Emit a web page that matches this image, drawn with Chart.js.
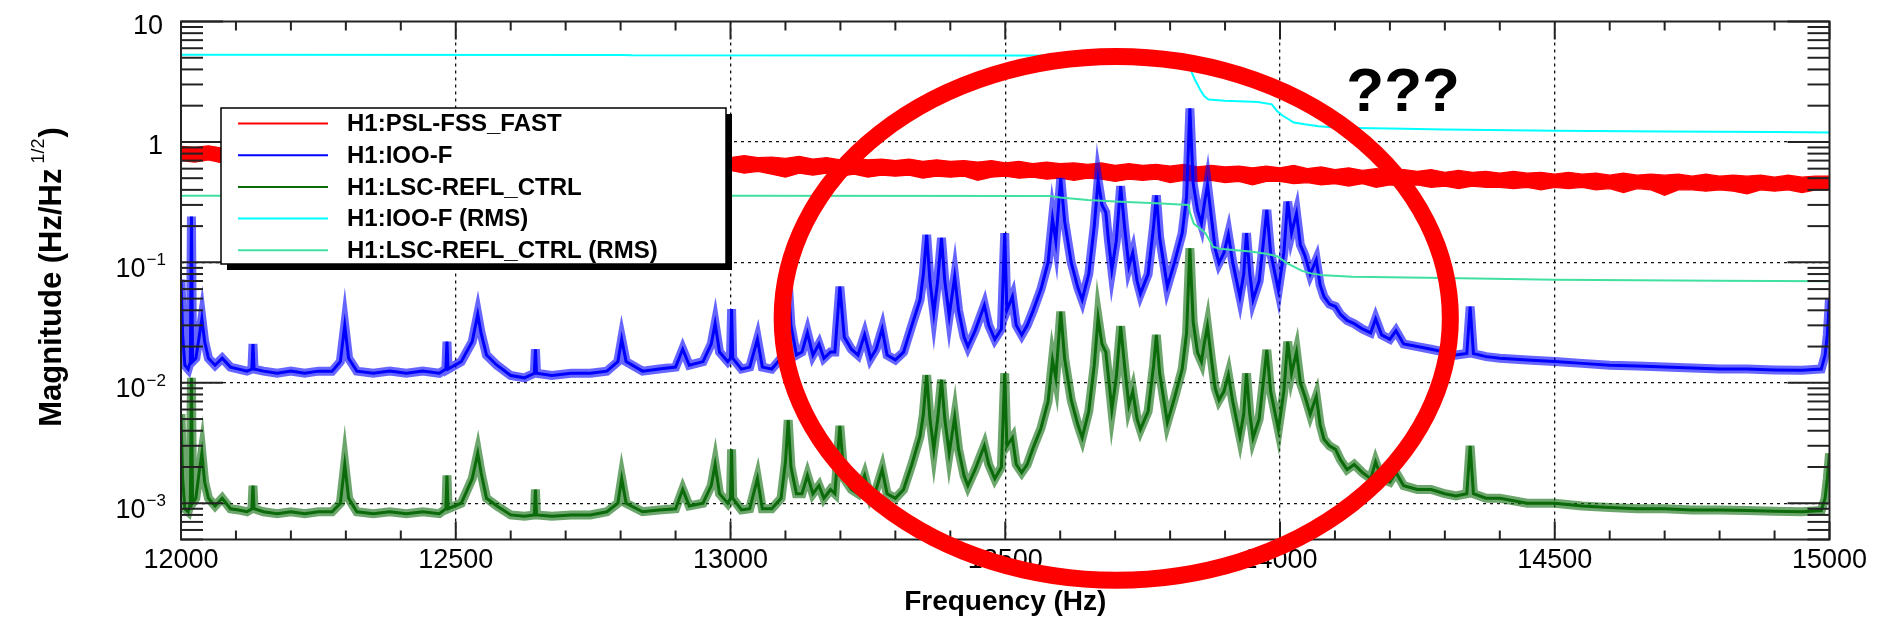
<!DOCTYPE html>
<html>
<head>
<meta charset="utf-8">
<script src="https://cdn.jsdelivr.net/npm/chart.js@4/dist/chart.umd.min.js"></script>
<style>
  html, body { margin: 0; padding: 0; background: #fff; }
</style>
</head>
<body>
<canvas id="spectrum" width="1878" height="627"></canvas>
<script>
const FONT = '"Liberation Sans", Arial, Helvetica, sans-serif';

// axis ticks
const freqTicks = [12000, 12500, 13000, 13500, 14000, 14500, 15000];
const magTicks = [1e-3, 1e-2, 1e-1, 1, 10];

const seriesNames = ['H1:PSL-FSS_FAST', 'H1:IOO-F', 'H1:LSC-REFL_CTRL', 'H1:IOO-F (RMS)', 'H1:LSC-REFL_CTRL (RMS)'];
const seriesColors = ['#ff0000', '#0000ff', '#0b6b0b', '#00ffff', '#40e0a0'];

// PSL-FSS_FAST: noise band edges on a 25 Hz grid
const pslFreq = Array.from({ length: 121 }, (_, i) => 12000 + 25 * i);
const pslUpper = [
  0.92, 0.90, 0.93, 0.89, 0.90, 0.88, 0.89, 0.87, 0.88, 0.87,
  0.86, 0.87, 0.85, 0.86, 0.84, 0.85, 0.84, 0.83, 0.84, 0.82,
  0.83, 0.82, 0.81, 0.82, 0.80, 0.81, 0.79, 0.80, 0.79, 0.78,
  0.79, 0.77, 0.78, 0.76, 0.77, 0.76, 0.75, 0.77, 0.75, 0.76,
  0.74, 0.77, 0.74, 0.75, 0.73, 0.76, 0.72, 0.74, 0.71, 0.73,
  0.71, 0.72, 0.70, 0.72, 0.69, 0.71, 0.69, 0.70, 0.68, 0.70,
  0.67, 0.69, 0.66, 0.68, 0.66, 0.67, 0.65, 0.67, 0.64, 0.66,
  0.64, 0.65, 0.63, 0.65, 0.62, 0.64, 0.62, 0.63, 0.61, 0.63,
  0.61, 0.64, 0.60, 0.62, 0.59, 0.61, 0.58, 0.60, 0.58, 0.59,
  0.57, 0.59, 0.56, 0.58, 0.56, 0.57, 0.55, 0.57, 0.55, 0.56,
  0.54, 0.56, 0.54, 0.55, 0.53, 0.55, 0.53, 0.54, 0.53, 0.54,
  0.52, 0.54, 0.52, 0.53, 0.52, 0.53, 0.51, 0.53, 0.51, 0.52,
  0.52
];
const pslLower = [
  0.70, 0.68, 0.71, 0.67, 0.69, 0.66, 0.68, 0.66, 0.67, 0.65,
  0.66, 0.64, 0.66, 0.64, 0.65, 0.63, 0.64, 0.63, 0.64, 0.62,
  0.63, 0.61, 0.62, 0.61, 0.62, 0.60, 0.61, 0.59, 0.60, 0.59,
  0.60, 0.58, 0.59, 0.57, 0.59, 0.57, 0.58, 0.56, 0.58, 0.56,
  0.58, 0.55, 0.57, 0.54, 0.51, 0.55, 0.53, 0.55, 0.52, 0.54,
  0.51, 0.53, 0.52, 0.53, 0.50, 0.52, 0.51, 0.52, 0.48, 0.51,
  0.52, 0.50, 0.51, 0.49, 0.50, 0.48, 0.50, 0.49, 0.47, 0.49,
  0.48, 0.49, 0.46, 0.48, 0.47, 0.48, 0.46, 0.47, 0.44, 0.47,
  0.47, 0.45, 0.46, 0.44, 0.45, 0.43, 0.45, 0.42, 0.44, 0.43,
  0.44, 0.42, 0.43, 0.41, 0.43, 0.42, 0.42, 0.41, 0.42, 0.40,
  0.42, 0.41, 0.42, 0.40, 0.41, 0.38, 0.41, 0.40, 0.36, 0.40,
  0.40, 0.39, 0.40, 0.39, 0.37, 0.40, 0.39, 0.40, 0.38, 0.40,
  0.40
];

// IOO-F spectrum [Hz, Hz/rtHz]
const iooF = [
  [12000, 0.072], [12003, 0.025], [12007, 0.014], [12013, 0.013], [12017, 0.015], [12019, 0.24], [12021, 0.015],
  [12027, 0.016], [12033, 0.024], [12038, 0.034], [12043, 0.022], [12050, 0.016], [12062, 0.014], [12075, 0.016],
  [12090, 0.0135], [12105, 0.013], [12120, 0.0125], [12129, 0.013], [12131, 0.021], [12133, 0.013], [12150, 0.0125],
  [12175, 0.012], [12200, 0.0125], [12225, 0.012], [12250, 0.0125], [12275, 0.0125], [12290, 0.015], [12298, 0.03],
  [12305, 0.016], [12320, 0.0125], [12350, 0.012], [12380, 0.0125], [12410, 0.012], [12440, 0.0125], [12470, 0.012],
  [12482, 0.013], [12484, 0.022], [12486, 0.013], [12510, 0.015], [12530, 0.022], [12540, 0.037], [12546, 0.026],
  [12556, 0.017], [12575, 0.014], [12600, 0.0115], [12625, 0.011], [12643, 0.012], [12645, 0.019], [12647, 0.012],
  [12675, 0.0115], [12710, 0.012], [12745, 0.012], [12775, 0.0125], [12795, 0.015], [12802, 0.023], [12810, 0.015],
  [12840, 0.0125], [12870, 0.013], [12900, 0.0135], [12913, 0.019], [12925, 0.014], [12950, 0.015], [12965, 0.021],
  [12972, 0.031], [12980, 0.018], [12995, 0.015], [13000, 0.016], [13002, 0.041], [13004, 0.016], [13020, 0.013],
  [13035, 0.0135], [13049, 0.023], [13058, 0.0135], [13075, 0.013], [13092, 0.016], [13100, 0.03], [13105, 0.069],
  [13110, 0.03], [13120, 0.017], [13130, 0.018], [13140, 0.026], [13150, 0.017], [13161, 0.021], [13170, 0.016],
  [13182, 0.018], [13190, 0.018], [13199, 0.063], [13207, 0.024], [13220, 0.019], [13232, 0.017], [13244, 0.025],
  [13255, 0.016], [13265, 0.019], [13276, 0.028], [13285, 0.017], [13300, 0.0155], [13315, 0.018], [13330, 0.03],
  [13345, 0.049], [13351, 0.08], [13357, 0.169], [13363, 0.07], [13370, 0.038], [13377, 0.07], [13384, 0.16],
  [13390, 0.07], [13398, 0.036], [13408, 0.076], [13415, 0.04], [13425, 0.024], [13432, 0.02], [13445, 0.027],
  [13462, 0.044], [13470, 0.03], [13481, 0.023], [13493, 0.028], [13499, 0.175], [13503, 0.04], [13513, 0.052],
  [13520, 0.03], [13530, 0.025], [13540, 0.03], [13551, 0.04], [13565, 0.06], [13578, 0.1], [13586, 0.23],
  [13592, 0.15], [13601, 0.5], [13608, 0.22], [13620, 0.1], [13632, 0.062], [13640, 0.049], [13652, 0.08],
  [13662, 0.2], [13669, 0.48], [13676, 0.3], [13683, 0.26], [13688, 0.15], [13694, 0.087], [13702, 0.15],
  [13710, 0.43], [13717, 0.2], [13725, 0.093], [13732, 0.12], [13740, 0.07], [13746, 0.055], [13760, 0.08],
  [13770, 0.2], [13775, 0.36], [13781, 0.16], [13795, 0.063], [13808, 0.1], [13822, 0.175], [13830, 0.35],
  [13836, 1.9], [13842, 0.45], [13850, 0.27], [13857, 0.21], [13862, 0.3], [13868, 0.44], [13875, 0.24],
  [13882, 0.13], [13889, 0.099], [13898, 0.12], [13906, 0.17], [13914, 0.1], [13927, 0.052], [13934, 0.08],
  [13939, 0.175], [13945, 0.08], [13951, 0.049], [13962, 0.07], [13970, 0.15], [13976, 0.273], [13983, 0.12],
  [13997, 0.059], [14007, 0.12], [14014, 0.32], [14021, 0.175], [14030, 0.255], [14037, 0.14], [14045, 0.115],
  [14055, 0.08], [14066, 0.105], [14073, 0.065], [14080, 0.052], [14090, 0.045], [14101, 0.043], [14110, 0.037],
  [14122, 0.033], [14135, 0.031], [14150, 0.028], [14165, 0.026], [14174, 0.034], [14185, 0.025], [14200, 0.023],
  [14211, 0.027], [14225, 0.021], [14250, 0.02], [14275, 0.019], [14300, 0.018], [14320, 0.017], [14340, 0.0175],
  [14346, 0.043], [14352, 0.0175], [14375, 0.0165], [14400, 0.016], [14450, 0.0155], [14500, 0.015], [14550, 0.0145],
  [14600, 0.014], [14650, 0.0138], [14700, 0.0135], [14750, 0.0133], [14800, 0.013], [14850, 0.013], [14900, 0.0128],
  [14950, 0.0127], [14985, 0.013], [14992, 0.017], [14996, 0.025], [15000, 0.05]
];

// LSC-REFL_CTRL spectrum
const lscF = [
  [12000, 0.0055], [12003, 0.0016], [12007, 0.0009], [12013, 0.00085], [12017, 0.001], [12019, 0.011], [12021, 0.001],
  [12027, 0.0011], [12033, 0.0018], [12038, 0.0026], [12043, 0.0015], [12050, 0.0011], [12062, 0.00095], [12075, 0.0011],
  [12090, 0.0009], [12105, 0.00088], [12120, 0.00085], [12129, 0.0009], [12131, 0.0014], [12133, 0.0009], [12150, 0.00085],
  [12175, 0.00082], [12200, 0.00085], [12225, 0.00082], [12250, 0.00085], [12275, 0.00085], [12290, 0.001], [12298, 0.0021],
  [12305, 0.0011], [12320, 0.00085], [12350, 0.00082], [12380, 0.00085], [12410, 0.00082], [12440, 0.00085], [12470, 0.00082],
  [12482, 0.0009], [12484, 0.0017], [12486, 0.0009], [12510, 0.001], [12530, 0.0016], [12540, 0.0026], [12546, 0.0018],
  [12556, 0.0011], [12575, 0.00095], [12600, 0.0008], [12625, 0.00078], [12643, 0.0008], [12645, 0.0013], [12647, 0.0008],
  [12675, 0.00078], [12710, 0.0008], [12745, 0.0008], [12775, 0.00085], [12795, 0.001], [12802, 0.0016], [12810, 0.001],
  [12840, 0.00085], [12870, 0.00088], [12900, 0.0009], [12913, 0.0013], [12925, 0.00095], [12950, 0.001], [12965, 0.0014],
  [12972, 0.0021], [12980, 0.0012], [12995, 0.001], [13000, 0.0011], [13002, 0.0028], [13004, 0.0011], [13020, 0.00088],
  [13035, 0.0009], [13049, 0.0016], [13058, 0.0009], [13075, 0.0009], [13092, 0.0011], [13100, 0.0022], [13105, 0.0049],
  [13110, 0.002], [13120, 0.0012], [13130, 0.0012], [13140, 0.0017], [13150, 0.0012], [13161, 0.0014], [13170, 0.0011],
  [13182, 0.0013], [13190, 0.0012], [13199, 0.0044], [13207, 0.0016], [13220, 0.0013], [13232, 0.0012], [13244, 0.0017],
  [13255, 0.0011], [13265, 0.0013], [13276, 0.0019], [13285, 0.0012], [13300, 0.0011], [13315, 0.0013], [13330, 0.0021],
  [13345, 0.0036], [13351, 0.0055], [13357, 0.0116], [13363, 0.005], [13370, 0.0028], [13377, 0.005], [13384, 0.0106],
  [13390, 0.005], [13398, 0.0026], [13408, 0.0052], [13415, 0.0028], [13425, 0.0017], [13432, 0.0014], [13445, 0.0019],
  [13462, 0.003], [13470, 0.0021], [13481, 0.0016], [13493, 0.002], [13499, 0.012], [13503, 0.003], [13513, 0.0035],
  [13520, 0.0021], [13530, 0.0018], [13540, 0.0021], [13551, 0.0029], [13565, 0.0042], [13578, 0.007], [13586, 0.0155],
  [13592, 0.011], [13601, 0.039], [13608, 0.016], [13620, 0.0072], [13632, 0.0045], [13640, 0.0035], [13652, 0.0058],
  [13662, 0.014], [13669, 0.0346], [13676, 0.021], [13683, 0.018], [13688, 0.011], [13694, 0.006], [13702, 0.011],
  [13710, 0.0295], [13717, 0.014], [13725, 0.0065], [13732, 0.0085], [13740, 0.005], [13746, 0.0041], [13760, 0.0058],
  [13770, 0.014], [13775, 0.025], [13781, 0.012], [13795, 0.0047], [13808, 0.0075], [13822, 0.013], [13830, 0.026],
  [13836, 0.131], [13842, 0.032], [13850, 0.0178], [13857, 0.015], [13862, 0.021], [13868, 0.0295], [13875, 0.016],
  [13882, 0.009], [13889, 0.0072], [13898, 0.0085], [13906, 0.0116], [13914, 0.007], [13927, 0.0036], [13934, 0.0055],
  [13939, 0.012], [13945, 0.0055], [13951, 0.0035], [13962, 0.005], [13970, 0.0105], [13976, 0.0188], [13983, 0.0085],
  [13997, 0.0041], [14007, 0.0085], [14014, 0.022], [14021, 0.012], [14030, 0.018], [14037, 0.01], [14045, 0.0078],
  [14055, 0.0055], [14066, 0.0077], [14073, 0.0045], [14080, 0.0034], [14090, 0.003], [14101, 0.0028], [14110, 0.0023],
  [14122, 0.0019], [14135, 0.0021], [14150, 0.0018], [14165, 0.0016], [14174, 0.0022], [14185, 0.0016], [14200, 0.0015],
  [14211, 0.0018], [14225, 0.0014], [14250, 0.0013], [14275, 0.0013], [14300, 0.0012], [14320, 0.00115], [14340, 0.0012],
  [14346, 0.003], [14352, 0.0012], [14375, 0.0011], [14400, 0.0011], [14450, 0.001], [14500, 0.001], [14550, 0.00095],
  [14600, 0.00092], [14650, 0.0009], [14700, 0.0009], [14750, 0.00088], [14800, 0.00088], [14850, 0.00087], [14900, 0.00086],
  [14950, 0.00085], [14985, 0.00087], [14992, 0.0011], [14996, 0.0016], [15000, 0.0026]
];

// cumulative RMS curves
const iooRms = [
  [12000, 5.3], [12800, 5.28], [12820, 5.25], [13500, 5.22], [13834, 5.2], [13836, 4.1], [13845, 3.3],
  [13855, 2.7], [13862, 2.4], [13870, 2.25], [13900, 2.2], [13960, 2.15], [13985, 2.05], [13995, 1.8],
  [14005, 1.65], [14015, 1.55], [14025, 1.45], [14045, 1.4], [14070, 1.35], [14107, 1.31], [14200, 1.29],
  [14300, 1.27], [14500, 1.24], [14700, 1.22], [14900, 1.21], [15000, 1.2]
];
const lscRms = [
  [12000, 0.358], [13000, 0.358], [13580, 0.355], [13600, 0.345], [13650, 0.33], [13700, 0.32], [13775, 0.31],
  [13834, 0.30], [13836, 0.26], [13843, 0.21], [13864, 0.176], [13878, 0.135], [13890, 0.13], [13946, 0.123],
  [13975, 0.118], [13996, 0.112], [14010, 0.1], [14025, 0.092], [14040, 0.085], [14056, 0.081], [14080, 0.078],
  [14132, 0.076], [14300, 0.074], [14500, 0.0716], [14800, 0.0705], [15000, 0.0697]
];

// highlighted region: centre [Hz, mag], half-widths [Hz, decades]
const ringCentre = [13702, 0.0343];
const ringRadius = [608, 2.174];
const noteText = '???';
const notePos = [14224, 2.8];

const pts = pairs => pairs.map(([x, y]) => ({ x, y }));

const datasets = [
  { label: seriesNames[0], data: pslFreq.map((x, i) => ({ x, y: pslUpper[i] })), borderColor: seriesColors[0],
    backgroundColor: seriesColors[0], borderWidth: 1.2, fill: '+1', order: 6 },
  { helper: true, data: pslFreq.map((x, i) => ({ x, y: pslLower[i] })), borderColor: seriesColors[0],
    borderWidth: 1.2, fill: false, order: 6 },
  { label: seriesNames[1], data: pts(iooF), borderColor: seriesColors[1], borderWidth: 3, order: 4 },
  { helper: true, data: pts(iooF), borderColor: 'rgba(0,0,255,0.6)', borderWidth: 9, order: 5 },
  { label: seriesNames[2], data: pts(lscF), borderColor: seriesColors[2], borderWidth: 3, order: 2 },
  { helper: true, data: pts(lscF), borderColor: 'rgba(11,107,11,0.6)', borderWidth: 9, order: 3 },
  { label: seriesNames[3], data: pts(iooRms), borderColor: seriesColors[3], borderWidth: 2, order: 1 },
  { label: seriesNames[4], data: pts(lscRms), borderColor: seriesColors[4], borderWidth: 2, order: 1 }
];

const hideEdge = edges => c => (c.tick && edges.includes(c.tick.value)) ? 'rgba(0,0,0,0)' : '#111';

// ROOT style frame: box plus inward ticks on all four sides
const frame = {
  id: 'frame',
  afterDatasetsDraw(chart) {
    const { ctx, chartArea: a, scales: { x, y } } = chart;
    const seg = (x1, y1, x2, y2) => { ctx.beginPath(); ctx.moveTo(x1, y1); ctx.lineTo(x2, y2); ctx.stroke(); };
    ctx.save();
    ctx.strokeStyle = '#222';
    ctx.lineWidth = 2;
    for (let f = 12000; f <= 15000; f += 100) {
      const px = x.getPixelForValue(f);
      const len = f % 500 === 0 ? 18 : 9;
      seg(px, a.bottom, px, a.bottom - len);
      seg(px, a.top, px, a.top + len);
    }
    for (let d = -4; d <= 1; d++) {
      for (let m = 1; m <= 9; m++) {
        const v = m * Math.pow(10, d);
        if (v < y.min || v > y.max * 1.0001) continue;
        const py = y.getPixelForValue(v);
        const len = m === 1 ? 42 : 22;
        seg(a.left, py, a.left + len, py);
        seg(a.right, py, a.right - len, py);
      }
    }
    ctx.strokeRect(a.left, a.top, a.right - a.left, a.bottom - a.top);
    ctx.restore();
  }
};

const legendBox = {
  id: 'legendBox',
  afterDatasetsDraw(chart) {
    const { ctx, chartArea: a } = chart;
    const left = a.left + 40, top = a.top + 86.5, w = 505, h = 156;
    ctx.save();
    ctx.fillStyle = '#000';
    ctx.fillRect(left + 6, top + 6, w, h);
    ctx.fillStyle = '#fff';
    ctx.fillRect(left, top, w, h);
    ctx.strokeStyle = '#000';
    ctx.lineWidth = 1.5;
    ctx.strokeRect(left, top, w, h);
    ctx.font = `bold 24px ${FONT}`;
    ctx.textBaseline = 'middle';
    chart.data.datasets.filter(d => !d.helper).forEach((d, i) => {
      const ry = top + 15.5 + i * 31.7;
      ctx.strokeStyle = d.borderColor;
      ctx.lineWidth = 2;
      ctx.beginPath(); ctx.moveTo(left + 17, ry); ctx.lineTo(left + 107, ry); ctx.stroke();
      ctx.fillStyle = '#000';
      ctx.fillText(d.label, left + 126, ry + 1);
    });
    ctx.restore();
  }
};

// y tick labels with exponents, and the y title with its superscript
const axisLabels = {
  id: 'axisLabels',
  afterDraw(chart) {
    const { ctx, chartArea: a, scales: { y } } = chart;
    ctx.save();
    ctx.fillStyle = '#000';
    ctx.textAlign = 'right';
    ctx.textBaseline = 'alphabetic';
    magTicks.forEach(v => {
      const py = y.getPixelForValue(v);
      const exp = Math.round(Math.log10(v));
      if (exp >= 0) {
        ctx.font = `27px ${FONT}`;
        ctx.fillText(String(v), a.left - 18, py + 12);
      } else {
        const sup = '\u2212' + (-exp);
        ctx.font = `17px ${FONT}`;
        const w = ctx.measureText(sup).width;
        ctx.fillText(sup, a.left - 15, py + 3);
        ctx.font = `27px ${FONT}`;
        ctx.fillText('10', a.left - 16 - w, py + 14.5);
      }
    });

    ctx.translate(61, (a.top + a.bottom) / 2 - 3);
    ctx.rotate(-Math.PI / 2);
    ctx.textAlign = 'left';
    const head = 'Magnitude (Hz/Hz', sup = '1/2', tail = ')';
    const bold = `bold 31px ${FONT}`, small = `18px ${FONT}`;
    ctx.font = bold;
    const w1 = ctx.measureText(head).width, w3 = ctx.measureText(tail).width;
    ctx.font = small;
    const w2 = ctx.measureText(sup).width;
    const gap = 5;
    const x0 = -(w1 + gap + w2 + w3) / 2;
    ctx.font = bold;
    ctx.fillText(head, x0, 0);
    ctx.font = small;
    ctx.fillText(sup, x0 + w1 + gap, -17);
    ctx.font = bold;
    ctx.fillText(tail, x0 + w1 + gap + w2 + 1, 0);
    ctx.restore();
  }
};

const annotations = {
  id: 'annotations',
  afterDraw(chart) {
    const { ctx, scales: { x, y } } = chart;
    const cx = x.getPixelForValue(ringCentre[0]);
    const cy = y.getPixelForValue(ringCentre[1]);
    const rx = x.getPixelForValue(ringCentre[0] + ringRadius[0]) - cx;
    const ry = cy - y.getPixelForValue(ringCentre[1] * Math.pow(10, ringRadius[1]));
    ctx.save();
    ctx.strokeStyle = '#ff0000';
    ctx.lineWidth = 17;
    ctx.beginPath();
    ctx.ellipse(cx, cy, rx, ry, 0, 0, Math.PI * 2);
    ctx.stroke();
    ctx.fillStyle = '#000';
    ctx.font = `bold 62px ${FONT}`;
    ctx.textAlign = 'center';
    ctx.textBaseline = 'alphabetic';
    ctx.fillText(noteText, x.getPixelForValue(notePos[0]), y.getPixelForValue(notePos[1]) + 22.5);
    ctx.restore();
  }
};

new Chart(document.getElementById('spectrum'), {
  type: 'line',
  data: { datasets },
  options: {
    responsive: false,
    animation: false,
    layout: { padding: { left: 0, right: 48.5, top: 21.5, bottom: 0 } },
    plugins: { legend: { display: false }, tooltip: { enabled: false } },
    elements: { point: { radius: 0 }, line: { tension: 0 } },
    scales: {
      x: {
        type: 'linear',
        min: 12000,
        max: 15000,
        afterBuildTicks: s => { s.ticks = freqTicks.map(v => ({ value: v })); },
        afterFit: s => { s.height = 87.5; },
        grid: { color: hideEdge([12000, 15000]), lineWidth: 1.3, drawTicks: false },
        border: { display: false, dash: [3, 4] },
        ticks: {
          color: '#000',
          font: { family: FONT, size: 27 },
          padding: 5,
          maxRotation: 0,
          autoSkip: false,
          callback: v => String(v)
        },
        title: {
          display: true,
          text: 'Frequency (Hz)',
          color: '#000',
          font: { family: FONT, size: 28, weight: 'bold' },
          padding: { top: 0, bottom: 8 }
        }
      },
      y: {
        type: 'logarithmic',
        min: 5.0e-4,
        max: 10,
        afterBuildTicks: s => { s.ticks = magTicks.map(v => ({ value: v })); },
        afterFit: s => { s.width = 181; },
        grid: { color: hideEdge([10]), lineWidth: 1.3, drawTicks: false },
        border: { display: false, dash: [3, 4] },
        ticks: { display: false }
      }
    }
  },
  plugins: [frame, legendBox, axisLabels, annotations]
});
</script>
</body>
</html>
